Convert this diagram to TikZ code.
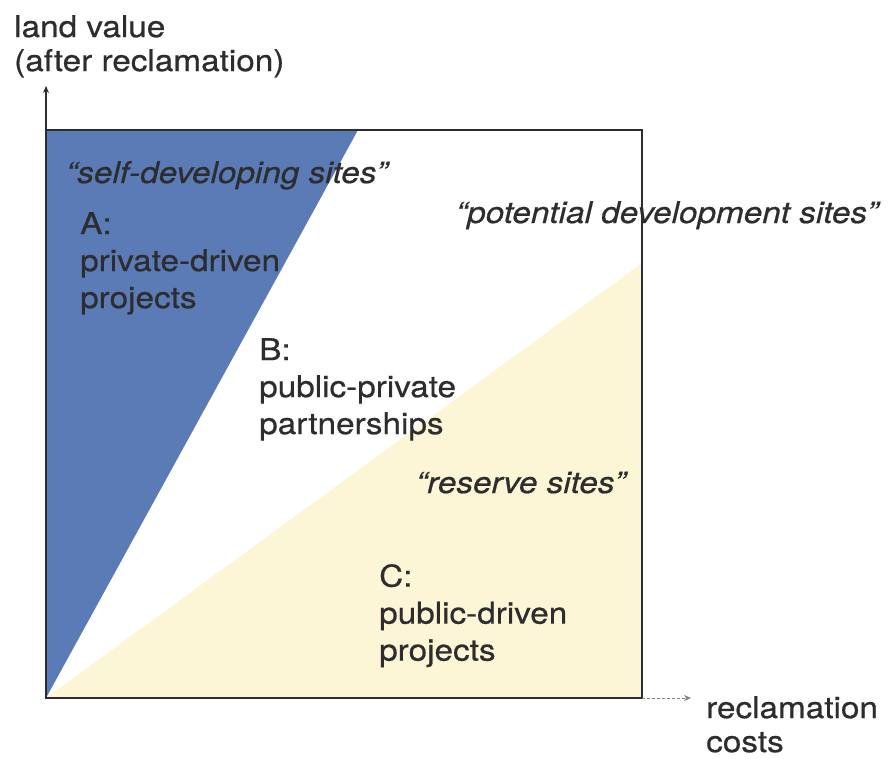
\documentclass[tikz,border=0pt]{standalone}
\usepackage{fontspec}
\setmainfont[FakeStretch=1.11, FakeBold=0.6]{TeX Gyre Heros}
\usetikzlibrary{arrows.meta}
\definecolor{ink}{HTML}{2D2D2F}
\definecolor{blueA}{HTML}{5B7BB7}
\definecolor{sandC}{HTML}{FCF6D7}
\tikzset{
  lbl/.style={inner sep=0pt, text=ink, align=left, anchor=north west,
              font=\fontsize{30}{37}\selectfont},
  axlbl/.style={lbl, font=\fontsize{30}{34}\selectfont},
  quot/.style={inner sep=0pt, text=ink, anchor=base west,
               font=\fontsize{30}{37}\selectfont\itshape},
  ax/.style={-{Stealth[length=7pt,width=6pt]}, line width=1.2pt, draw=ink},
  frame/.style={draw=ink, line width=2.4pt}
}

\begin{document}
\begin{tikzpicture}[x=1pt, y=-1pt]
  \useasboundingbox (0,0) rectangle (893,758);
  \coordinate (O) at (46,698);
  \coordinate (N) at (46,130);
  \coordinate (E) at (642,698);
  \coordinate (NE) at (642,130);
  \coordinate (ytip) at (46,86);
  \coordinate (xtip) at (691,698);
  % the three zones
  \fill[blueA] (O) -- (N) -- (358,130) -- cycle;
  \fill[sandC] (O) -- (E) -- (642,263) -- cycle;
  % axis titles
  \node[axlbl] (ytitle) at (14,15) {land value\\(after reclamation)};
  \node[axlbl] (xtitle) at (706,696) {reclamation\\costs};
  % zone names
  \node[quot] (selfdev) at (66,183) {“self-developing sites”};
  \node[quot] (potdev) at (456,223) {“potential development sites”};
  \node[quot] (reserve) at (416,493) {“reserve sites”};
  \node[lbl] (zoneA) at (80,212) {A:\\private-driven\\projects};
  \node[lbl] (zoneB) at (259,338) {B:\\public-private\\partnerships};
  \node[lbl] (zoneC) at (379,564) {C:\\public-driven\\projects};
  % frame and axes
  \draw[frame] (O) rectangle (NE);
  \draw[ax] (N) -- (ytip);
  \draw[ax, densely dashed, line width=0.8pt, draw=ink!60] (E) -- (xtip);
\end{tikzpicture}
\end{document}
